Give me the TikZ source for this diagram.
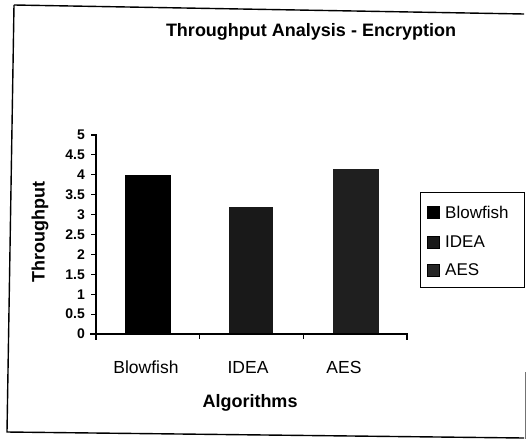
\documentclass[tikz,border=0pt]{standalone}
\usepackage{fontspec}
\setmainfont{Liberation Sans}
\begin{document}
\begin{tikzpicture}[x=1pt,y=-1pt,
  titlefont/.style={font=\fontsize{18}{20}\selectfont\bfseries},
  catlabel/.style={font=\fontsize{17.5}{20}\selectfont, inner sep=0pt},
  ticklabel/.style={font=\fontsize{14}{16}\selectfont\bfseries, anchor=east, inner sep=0pt},
  legtext/.style={font=\fontsize{17}{20}\selectfont, anchor=west, inner sep=0pt},
  axisline/.style={line width=1.3pt, line cap=rect},
  swatch/.style={draw=black, line width=0.4pt, minimum size=12pt, inner sep=0pt}]
\useasboundingbox (0,0) rectangle (526,439);
% outer frame (slightly tilted scan)
\draw[line width=1.4pt] (14,5) -- (524,14);
\draw[line width=1.4pt] (14,5) -- (7,432) -- (524,438);
\draw[line width=1pt, black!55] (525,372) -- (525,439);
% title
\node[titlefont] (title) at (311,32) {Throughput Analysis - Encryption};
% bars
\fill[black] (125,334) rectangle (171,175);
\fill[black!90] (229,334) rectangle (273,207);
\fill[black!88] (333,334) rectangle (379,169);
% axes
\coordinate (o) at (96,334);
\coordinate (ytop) at (96,135);
\coordinate (xend) at (407,334);
\draw[axisline] (ytop) -- (96,339);
\draw[axisline] (91,334) -- (xend) -- (407,339);
\foreach \v/\lab in {0/0,1/0.5,2/1,3/1.5,4/2,5/2.5,6/3,7/3.5,8/4,9/4.5,10/5}{
  \draw[line width=1.1pt] (91,{334-\v*19.9}) -- (96,{334-\v*19.9});
  \node[ticklabel] (t\v) at (85,{334-\v*19.9}) {\lab};
}
\draw[line width=1.1pt] (199.7,334) -- (199.7,339);
\draw[line width=1.1pt] (303.3,334) -- (303.3,339);
% category labels
\node[catlabel] (cb) at (146,367) {Blowfish};
\node[catlabel] (ci) at (248,367) {IDEA};
\node[catlabel] (ca) at (344,367) {AES};
% axis titles
\node[titlefont] (xlab) at (250,403) {Algorithms};
\node[titlefont, rotate=90] (ylab) at (40,232) {Throughput};
% legend
\draw[line width=1pt] (420,192) rectangle (524,287);
\node[swatch, fill=black] (s1) at (433.5,212) {};
\node[swatch, fill=black!90] (s2) at (433.5,242) {};
\node[swatch, fill=black!85] (s3) at (433.5,270) {};
\node[legtext] (l1) at (445,212) {Blowfish};
\node[legtext] (l2) at (445,242) {IDEA};
\node[legtext] (l3) at (445,270) {AES};
\end{tikzpicture}
\end{document}
